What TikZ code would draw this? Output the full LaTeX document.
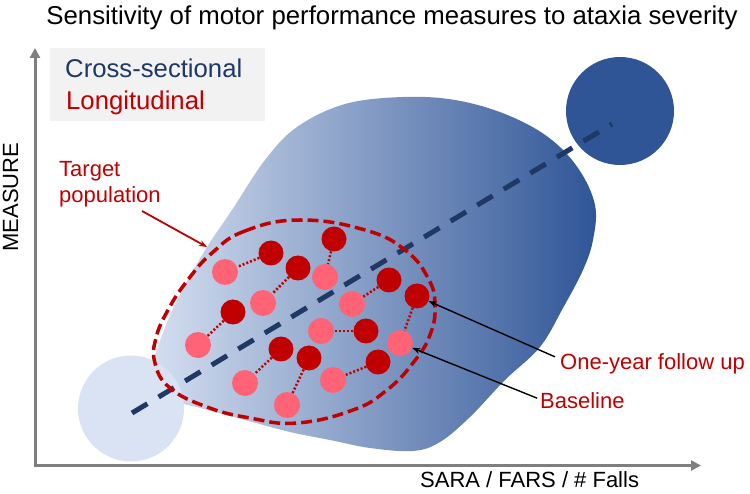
\documentclass[tikz,border=0pt]{standalone}
\usepackage{fontspec}
\setmainfont{Liberation Sans}
\usetikzlibrary{arrows.meta}
\definecolor{axgray}{RGB}{127,127,127}
\definecolor{navy}{RGB}{31,56,100}
\definecolor{dkred}{RGB}{192,0,0}
\definecolor{pinkdot}{RGB}{255,99,117}
\definecolor{dkblue}{RGB}{47,85,151}
\definecolor{ltblue}{RGB}{218,227,243}
\definecolor{blobleft}{RGB}{214,224,241}
\definecolor{legbg}{RGB}{242,242,242}
\begin{document}
\begin{tikzpicture}[x=1pt,y=-1pt,
  dk/.style={circle,fill=dkred,minimum size=25pt,inner sep=0pt},
  pk/.style={circle,fill=pinkdot,minimum size=26pt,inner sep=0pt},
  dotline/.style={dkred,line width=2.5pt,dash pattern=on 2pt off 2pt},
  lbl/.style={inner sep=0pt,anchor=base west,font={\fontsize{22}{26}\selectfont}},
  legtxt/.style={inner sep=0pt,anchor=base west,font={\fontsize{25.7}{30}\selectfont}},
  callout/.style={black,line width=1.4pt,-{Stealth[length=8pt,width=6pt]}},
]
\useasboundingbox (0,0) rectangle (750,494);

% blob
\shade[left color=blobleft,right color=dkblue]
  plot[smooth cycle,tension=0.6] coordinates {
  (155,355) (168,320) (185,285) (207,247) (232,210) (265,160) (297,127)
  (345,104) (403,97) (455,100) (505,114) (548,137) (578,168)
  (595,205) (593,240) (583,270) (563,308) (540,347) (505,380) (470,417)
  (440,442) (413,451) (370,448) (330,440) (290,432) (245,420) (200,408)
  (165,398) (148,380)};

% circles
\node[circle,fill=ltblue,minimum size=106pt,inner sep=0pt] (lc) at (131,408.5) {};
\node[circle,fill=dkblue,minimum size=108pt,inner sep=0pt] (dc) at (620,111) {};

% axes
\coordinate (ytop) at (35,48);
\coordinate (xend) at (701,465.5);
\draw[axgray,line width=3pt,{Triangle[length=10pt,width=10pt]}-{Triangle[length=10pt,width=10pt]}]
  (ytop) |- (xend);

% diagonal dashed line
\coordinate (dlend) at (612,124);
\draw[navy,line width=5pt,dash pattern=on 18pt off 13pt] (132,413) -- (dlend);

% target population ellipse
\draw[dkred,line width=3.5pt,dash pattern=on 11pt off 5pt]
  plot[smooth cycle,tension=0.75] coordinates {
  (212,253) (245,231) (300,220) (365,230) (405,250) (428,278) (435,305)
  (430,335) (413,363) (387,390) (353,410) (297,423) (250,418) (207,407)
  (170,388) (155,363) (156,338) (168,310) (187,281)};

% dots
\node[dk] (d1) at (271,253) {};
\node[dk] (d2) at (298,268) {};
\node[dk] (d3) at (334,239) {};
\node[dk] (d4) at (389,280) {};
\node[dk] (d5) at (417,296) {};
\node[dk] (d6) at (233,312) {};
\node[dk] (d7) at (366,331) {};
\node[dk] (d8) at (281,349) {};
\node[dk] (d9) at (309,358) {};
\node[dk] (d10) at (378,362) {};
\node[pk] (p1) at (225,272) {};
\node[pk] (p2) at (263,303) {};
\node[pk] (p3) at (325,277) {};
\node[pk] (p4) at (352,304) {};
\node[pk] (p5) at (321,331) {};
\node[pk] (p6) at (198,345) {};
\node[pk] (p7) at (400,343) {};
\node[pk] (p8) at (245,383) {};
\node[pk] (p9) at (333,380) {};
\node[pk] (p10) at (287,405) {};

\draw[dotline] (d1) -- (p1);
\draw[dotline] (d2) -- (p2);
\draw[dotline] (d3) -- (p3);
\draw[dotline] (d4) -- (p4);
\draw[dotline] (d5) -- (p7);
\draw[dotline] (d6) -- (p6);
\draw[dotline] (d7) -- (p5);
\draw[dotline] (d8) -- (p8);
\draw[dotline] (d9) -- (p10);
\draw[dotline] (d10) -- (p9);

% title
\node[anchor=base,inner sep=0pt,font={\fontsize{25.8}{30}\selectfont}] (title) at (392,25)
  {Sensitivity of motor performance measures to ataxia severity};

% legend
\node[fill=legbg,minimum width=215pt,minimum height=73pt,anchor=north west,inner sep=0pt] (leg) at (50,48) {};
\node[legtxt,text=navy] (cs) at (65,78) {Cross-sectional};
\node[legtxt,text=dkred] (lo) at (66,110) {Longitudinal};

% axis labels
\node[rotate=90,anchor=base,inner sep=0pt,font={\fontsize{22}{26}\selectfont}] (ylab) at (18,197) {MEASURE};
\node[lbl] (xlab) at (420,487) {SARA / FARS / \# Falls};

% target population
\node[lbl,text=dkred] (tg1) at (59,177) {Target};
\node[lbl,text=dkred] (tg2) at (59,203) {population};
\coordinate (tgs) at (142,211);
\draw[dkred,line width=1.8pt,-{Stealth[length=8pt,width=6pt]}] (tgs) -- (207,247);

% callouts
\node[lbl,text=dkred] (oy) at (560,370) {One-year follow up};
\node[lbl,text=dkred] (bl) at (540,408) {Baseline};
\draw[callout] ([xshift=-5pt,yshift=-3pt]oy.north west) -- (d5);
\draw[callout] ([xshift=-3pt,yshift=2pt]bl.west) -- (p7);
\end{tikzpicture}
\end{document}
